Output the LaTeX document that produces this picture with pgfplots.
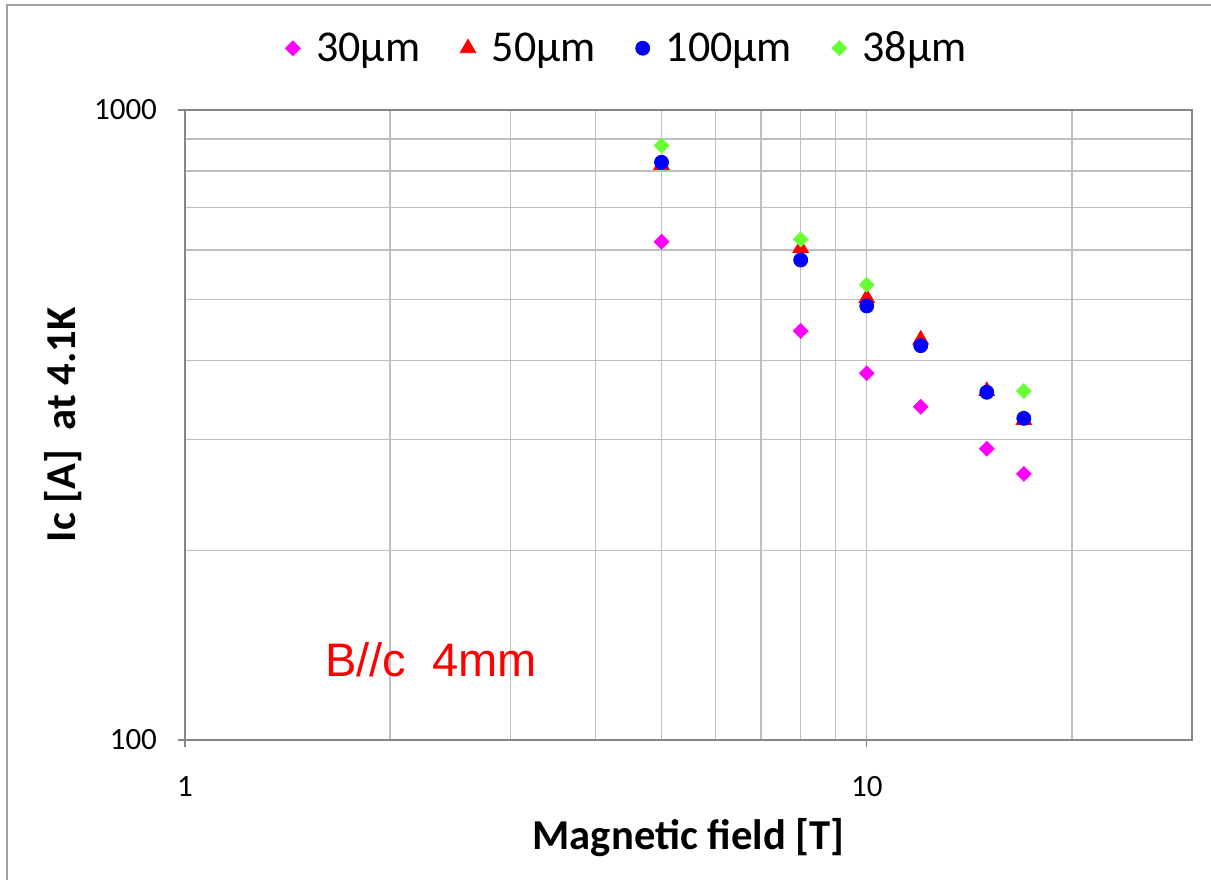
\documentclass[border=0pt]{standalone}
\usepackage{pgfplots}
\pgfplotsset{compat=1.18}
\usepackage{fontspec}
\setmainfont{Carlito}
\newfontfamily\arialfont{Liberation Sans}
\definecolor{gridc}{HTML}{BFBFBF}
\definecolor{axc}{HTML}{868686}
\definecolor{framec}{HTML}{A0A0A0}
\definecolor{cmag}{HTML}{FF00FF}
\definecolor{cred}{HTML}{FF0000}
\definecolor{cblue}{HTML}{0000FF}
\definecolor{cgreen}{HTML}{66FF33}
\begin{document}
\begin{tikzpicture}
\useasboundingbox (0,0) rectangle (605.5pt,440pt);
\draw[framec, line width=1pt] (3.5pt,0pt) -- (3.5pt,437.5pt) -- (605.5pt,437.5pt);
\begin{axis}[
  at={(92.5pt,70pt)}, anchor=south west,
  scale only axis, width=503.5pt, height=315pt,
  xmode=log, ymode=log,
  xmin=1, xmax=30, ymin=100, ymax=1000,
  xtick={1,10}, xticklabels={1,10},
  ytick={100,1000}, yticklabels={100,1000},
  minor xtick={2,3,4,5,6,7,8,9,20,30},
  minor ytick={200,300,400,500,600,700,800,900},
  grid=both,
  major grid style={gridc, line width=0.75pt},
  minor grid style={gridc, line width=0.75pt},
  axis line style={axc, line width=0.75pt},
  tick align=outside, major tick length=3.5pt, minor tick length=0pt,
  tick style={axc, line width=0.75pt},
  xtick pos=bottom, ytick pos=left,
  tick label style={font=\fontsize{15.5}{18}\selectfont},
  yticklabel style={xshift=-7pt},
  xticklabel style={yshift=-11pt},
  xlabel={\bfseries Magnetic field [T]},
  ylabel={\bfseries Ic [A]\ \ at 4.1K},
  label style={font=\fontsize{21.3}{25}\selectfont},
  xlabel style={at={(axis description cs:0.5,-0.1746)}, anchor=base},
  ylabel style={at={(axis description cs:-0.121,0.5)}, anchor=center},
  legend columns=4,
  legend style={at={(axis description cs:0.44,1.098)}, anchor=center, draw=none, fill=none,
    font=\fontsize{22}{26}\selectfont,
    /tikz/every odd column/.append style={column sep=6pt},
    /tikz/every even column/.append style={column sep=18pt}},
  legend cell align=left,
]
\addplot[only marks, mark=square*, mark size=2.6pt, color=cmag, mark options={rotate=45}]
  coordinates {(5,618) (8,446) (10,382) (12,338) (15,290) (17,264.5)};
\addlegendentry{30µm}
\addplot[only marks, mark=triangle*, mark size=4.5pt, color=cred]
  coordinates {(5,818) (8,604) (10,503) (12,432) (15,358) (17,322)};
\addlegendentry{50µm}
\addplot[only marks, mark=*, mark size=3.5pt, color=cblue]
  coordinates {(5,826) (8,578) (10,488.6) (12,422.6) (15,356.4) (17,324)};
\addlegendentry{100µm}
\addplot[only marks, mark=square*, mark size=2.6pt, color=cgreen, mark options={rotate=45}]
  coordinates {(5,878) (8,623) (10,528) (17,358)};
\addlegendentry{38µm}
\node[anchor=base west, text=cred, font=\arialfont\fontsize{23.5}{28}\selectfont, inner sep=0pt]
  at (axis description cs:0.139,0.1) {B//c\ \ 4mm};
\end{axis}
\end{tikzpicture}
\end{document}
